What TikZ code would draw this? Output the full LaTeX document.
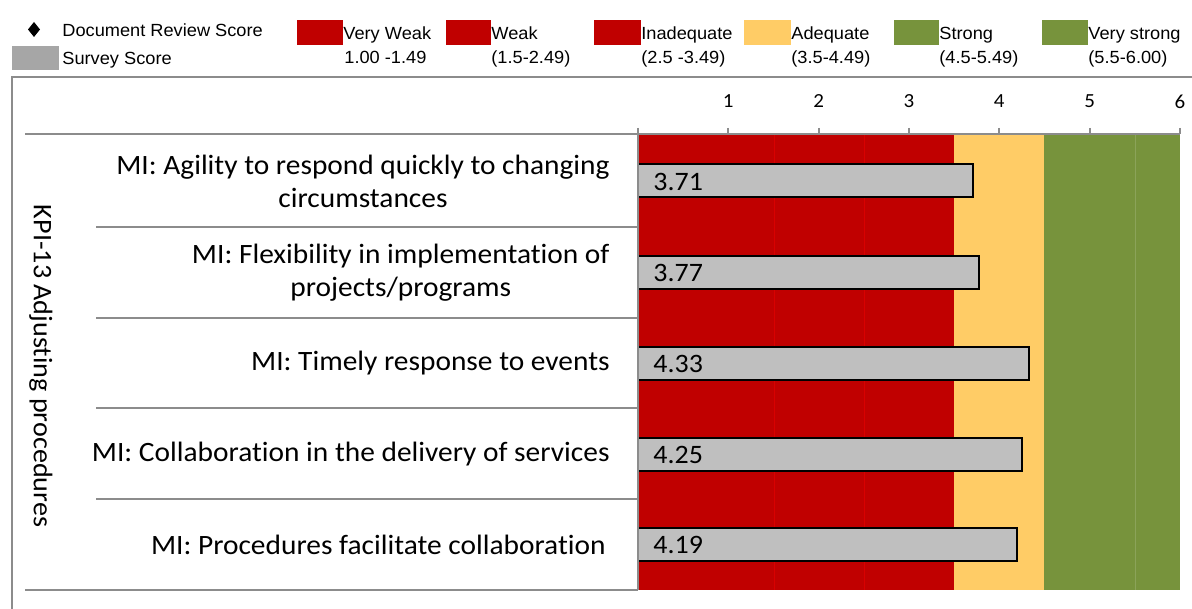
\documentclass[tikz,border=0pt]{standalone}
\usepackage{fontspec}
\setmainfont{Carlito}[Ligatures=NoCommon]
\newfontfamily\chartfont{Carlito}[FakeStretch=1.05, Ligatures=NoCommon]
\newfontfamily\legendfont{Liberation Sans}[FakeStretch=1.035]
\usetikzlibrary{positioning}

\definecolor{weakred}{HTML}{C00000}
\definecolor{adequateyellow}{HTML}{FFCC66}
\definecolor{stronggreen}{HTML}{77933C}
\definecolor{surveygray}{HTML}{BFBFBF}
\definecolor{keygray}{HTML}{A6A6A6}
\definecolor{rulegray}{HTML}{8C8C8C}

\begin{document}
\begin{tikzpicture}[x=0.5pt,y=-0.5pt,
  legtext/.style={font=\legendfont\fontsize{8.8}{10}\selectfont, inner sep=0pt, anchor=base west},
  milabel/.style={font=\chartfont\fontsize{14}{16.5}\selectfont, align=center, anchor=east, inner sep=0pt},
  scorebar/.style={draw=black, line width=1pt, fill=surveygray},
  score/.style={font=\chartfont\fontsize{13.3}{15}\selectfont, anchor=west, inner sep=0pt},
  ticklabel/.style={font=\chartfont\fontsize{10}{12}\selectfont, inner sep=0pt},
  rule/.style={draw=rulegray, line width=1pt},
  seam/.style={line width=0.4pt}]

\useasboundingbox (0,0) rectangle (1192,609);

\fill (34,22) -- (40,29.5) -- (34,37) -- (28,29.5) -- cycle;
\node [legtext] (docreview) at (62,37) {Document Review Score};
\fill [keygray] (12,46) rectangle (59,70);
\node [legtext] (survey) at (62,65) {Survey Score};

\fill [weakred] (297,20) rectangle (343,45);
\fill [weakred] (446,20) rectangle (491,45);
\fill [weakred] (594,20) rectangle (641,45);
\fill [adequateyellow] (744,20) rectangle (791,45);
\fill [stronggreen] (894,20) rectangle (939,45);
\fill [stronggreen] (1042,20) rectangle (1088,45);

\node [legtext] (veryweak) at (343,40) {Very Weak};
\node [legtext] (weak) at (491,40) {Weak};
\node [legtext] (inadequate) at (641,40) {Inadequate};
\node [legtext] (adequate) at (791,40) {Adequate};
\node [legtext] (strong) at (939,40) {Strong};
\node [legtext] (verystrong) at (1088,40) {Very strong};

\node [legtext] (veryweakrange) at (344,64) {1.00 -1.49};
\node [legtext] (weakrange) at (491,64) {(1.5-2.49)};
\node [legtext] (inadequaterange) at (641,64) {(2.5 -3.49)};
\node [legtext] (adequaterange) at (791,64) {(3.5-4.49)};
\node [legtext] (strongrange) at (939,64) {(4.5-5.49)};
\node [legtext] (verystrongrange) at (1088,64) {(5.5-6.00)};

\fill [weakred] (638,134) rectangle (954,590);
\fill [adequateyellow] (954,134) rectangle (1044,590);
\fill [stronggreen] (1044,134) rectangle (1180,590);
\draw [seam, draw=red!40!weakred] (774,134) -- (774,590);
\draw [seam, draw=red!40!weakred] (864,134) -- (864,590);
\draw [seam, draw=stronggreen!85!white] (1135,134) -- (1135,590);

\draw [scorebar] (638,164) rectangle (973.1,197);
\draw [scorebar] (638,256) rectangle (978.5,289);
\draw [scorebar] (638,347) rectangle (1029.1,380);
\draw [scorebar] (638,438) rectangle (1021.9,471);
\draw [scorebar] (638,528) rectangle (1016.5,561);

\node [score] (score1) at (653,181.5) {3.71};
\node [score] (score2) at (653,273) {3.77};
\node [score] (score3) at (653,364) {4.33};
\node [score] (score4) at (653,455) {4.25};
\node [score] (score5) at (653,545) {4.19};

\draw [rule] (12,609) -- (12,77) -- (1192,77);
\draw [rule] (25,134) -- (638,134);
\draw [rule] (96,227) -- (638,227);
\draw [rule] (96,318) -- (638,318);
\draw [rule] (96,408) -- (638,408);
\draw [rule] (96,499) -- (638,499);
\draw [rule] (25,590) -- (638,590);
\draw [rule] (638,590) -- (638,134) -- (1180,134);
\draw [rule] (638,128) -- (638,134);
\draw [rule] (728.3,128) -- (728.3,134);
\draw [rule] (818.7,128) -- (818.7,134);
\draw [rule] (909,128) -- (909,134);
\draw [rule] (999.3,128) -- (999.3,134);
\draw [rule] (1089.7,128) -- (1089.7,134);
\draw [rule] (1180,128) -- (1180,134);

\node [ticklabel] (tick1) at (728.3,101.5) {1};
\node [ticklabel] (tick2) at (818.7,101.5) {2};
\node [ticklabel] (tick3) at (909,101.5) {3};
\node [ticklabel] (tick4) at (999.3,101.5) {4};
\node [ticklabel] (tick5) at (1089.7,101.5) {5};
\node [ticklabel] (tick6) at (1180,101.5) {6};

\node [milabel] (mi1) at (610,181) {MI: Agility to respond quickly to changing\\circumstances};
\node [milabel] (mi2) at (610,273) {MI: Flexibility in implementation of\\projects/programs};
\node [milabel] (mi3) at (610,363) {MI: Timely response to events};
\node [milabel] (mi4) at (610,454) {MI: Collaboration in the delivery of services};
\node [milabel] (mi5) at (606,545) {MI: Procedures facilitate collaboration};

\node [font=\chartfont\fontsize{13.4}{15}\selectfont, rotate=-90, inner sep=0pt] (kpi) at (41,366) {KPI-13 Adjusting procedures};
\end{tikzpicture}
\end{document}
